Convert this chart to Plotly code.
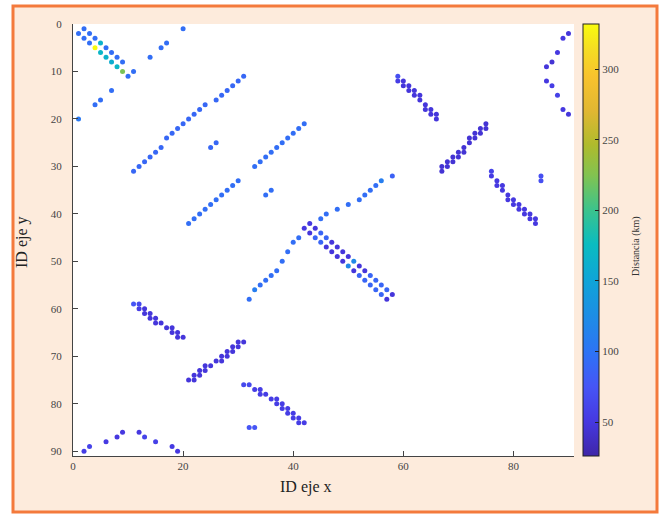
import plotly.graph_objects as go

# ---------------- data (ID x, ID y, distance km) ----------------
tl_x = [2, 1, 3, 2, 4, 3, 5, 4, 6, 5, 7, 6, 8, 7, 9, 8, 9, 11, 10]
tl_y = [1, 2, 2, 3, 3, 4, 4, 5, 5, 6, 6, 7, 7, 8, 8, 9, 10, 10, 11]
tl_d = [95, 95, 95, 95, 95, 95, 165, 332, 95, 170, 95, 165, 95, 160, 95, 170, 222, 95, 95]

sc_x = [20, 17, 16, 14, 7, 5, 4, 1]
sc_y = [1, 4, 5, 7, 14, 16, 17, 20]
sc_d = [95, 95, 95, 95, 95, 95, 95, 105]

l1_x = [31, 30, 29, 28, 27, 26, 24, 23, 22, 21, 20, 19, 18, 17, 16, 15, 14, 13, 12, 11, 25, 26]
l1_y = [11, 12, 13, 14, 15, 16, 17, 18, 19, 20, 21, 22, 23, 24, 26, 27, 28, 29, 30, 31, 26, 25]
l1_d = [90] * 22

l2_x = [42, 41, 40, 39, 38, 37, 36, 35, 34, 33, 30, 29, 28, 27, 26, 25, 24, 23, 22, 21, 36, 35]
l2_y = [21, 22, 23, 24, 25, 26, 27, 28, 29, 30, 33, 34, 35, 36, 37, 38, 39, 40, 41, 42, 35, 36]
l2_d = [95] * 22

l4_x = [58, 56, 55, 54, 53, 52, 50, 48, 46, 45, 43, 42, 41, 40, 39, 38, 37, 36, 35, 34, 33, 32]
l4_y = [32, 33, 34, 35, 36, 37, 38, 39, 40, 41, 42, 43, 45, 46, 48, 50, 52, 53, 54, 55, 56, 58]
l4_d = [85, 110, 95, 95, 95, 95, 95, 95, 95, 95, 50, 50, 95, 95, 95, 95, 95, 95, 95, 95, 110, 95]

dr_x = [44, 45, 46, 47, 48, 49, 50, 51, 52, 53, 54, 55, 56, 57, 58,
        43, 44, 45, 46, 47, 48, 49, 50, 51, 52, 53, 54, 55, 56, 57]
dr_y = [43, 44, 45, 46, 47, 48, 49, 50, 51, 52, 53, 54, 55, 56, 57,
        44, 45, 46, 47, 48, 49, 50, 51, 52, 53, 54, 55, 56, 57, 58]
dr_d = [48, 88, 88, 48, 48, 48, 48, 120, 48, 48, 88, 88, 88, 88, 48,
        48, 88, 88, 48, 48, 48, 48, 120, 48, 88, 88, 88, 88, 88, 48]

ga_x = [59, 59, 60, 60, 61, 61, 62, 62, 63, 63, 64, 64, 65, 65, 66, 66]
ga_y = [11, 12, 12, 13, 13, 14, 14, 15, 15, 16, 17, 18, 18, 19, 19, 20]
ga_d = [70, 55, 48, 48, 48, 48, 48, 48, 48, 48, 48, 48, 48, 48, 48, 48]

gam_x = [11, 12, 12, 13, 13, 14, 14, 15, 15, 16, 17, 18, 18, 19, 19, 20]
gam_y = [59, 59, 60, 60, 61, 61, 62, 62, 63, 63, 64, 64, 65, 65, 66, 66]
gam_d = [75, 65, 55, 48, 48, 48, 48, 48, 48, 48, 48, 48, 48, 48, 48, 48]

gb_x = [75, 74, 75, 73, 74, 72, 73, 72, 71, 70, 71, 69, 70, 68, 69, 67, 68, 67]
gb_y = [21, 22, 22, 23, 23, 24, 24, 25, 26, 27, 27, 28, 28, 29, 29, 30, 30, 31]
gb_d = [45] * 18

gbm_x = [21, 22, 22, 23, 23, 24, 24, 25, 26, 27, 27, 28, 28, 29, 29, 30, 30, 31]
gbm_y = [75, 74, 75, 73, 74, 72, 73, 72, 71, 70, 71, 69, 70, 68, 69, 67, 68, 67]
gbm_d = [48] * 18

gc_x = [76, 76, 77, 77, 78, 78, 79, 79, 80, 80, 81, 81, 82, 82, 83, 83, 84, 84, 85, 85]
gc_y = [31, 32, 33, 34, 34, 35, 36, 37, 37, 38, 38, 39, 39, 40, 40, 41, 41, 42, 32, 33]
gc_d = [60, 52, 50, 50, 50, 50, 50, 50, 50, 50, 50, 50, 50, 50, 50, 50, 50, 50, 70, 70]

gcm_x = [31, 32, 33, 34, 34, 35, 36, 37, 37, 38, 38, 39, 39, 40, 40, 41, 41, 42, 32, 33]
gcm_y = [76, 76, 77, 77, 78, 78, 79, 79, 80, 80, 81, 81, 82, 82, 83, 83, 84, 84, 85, 85]
gcm_d = [65, 65, 55, 55, 55, 55, 55, 55, 55, 55, 55, 55, 55, 55, 55, 55, 55, 55, 75, 75]

rt_x = [90, 89, 88, 87, 86, 86, 87, 88, 89, 90]
rt_y = [2, 3, 6, 8, 9, 12, 13, 15, 18, 19]
rt_d = [48, 50, 50, 45, 48, 50, 55, 58, 50, 48]

bt_x = [2, 3, 6, 8, 9, 12, 13, 15, 18, 19]
bt_y = [90, 89, 88, 87, 86, 86, 87, 88, 89, 90]
bt_d = [55, 60, 52, 50, 50, 50, 60, 58, 52, 50]

x_ticks = [0, 20, 40, 60, 80]
y_ticks = [0, 10, 20, 30, 40, 50, 60, 70, 80, 90]
cb_ticks = [50, 100, 150, 200, 250, 300]

xs = tl_x + sc_x + l1_x + l2_x + l4_x + dr_x + ga_x + gam_x + gb_x + gbm_x + gc_x + gcm_x + rt_x + bt_x
ys = tl_y + sc_y + l1_y + l2_y + l4_y + dr_y + ga_y + gam_y + gb_y + gbm_y + gc_y + gcm_y + rt_y + bt_y
ds = tl_d + sc_d + l1_d + l2_d + l4_d + dr_d + ga_d + gam_d + gb_d + gbm_d + gc_d + gcm_d + rt_d + bt_d

parula = [
    [0.00, "rgb(62,38,168)"],
    [0.08, "rgb(70,56,225)"],
    [0.16, "rgb(70,85,245)"],
    [0.24, "rgb(45,115,245)"],
    [0.32, "rgb(30,140,230)"],
    [0.41, "rgb(15,165,215)"],
    [0.49, "rgb(10,188,192)"],
    [0.57, "rgb(60,195,140)"],
    [0.65, "rgb(130,195,80)"],
    [0.72, "rgb(175,187,45)"],
    [0.80, "rgb(225,183,50)"],
    [0.88, "rgb(248,195,45)"],
    [0.94, "rgb(245,220,35)"],
    [1.00, "rgb(249,251,14)"],
]

W, H = 665, 517
ML, MR, MT, MB = 73, 91, 24, 61
PW, PH = W - ML - MR, H - MT - MB

def px_x(p):
    return (p - ML) / PW

def px_y(p):
    return (H - MB - p) / PH

SERIF = "Liberation Serif"

fig = go.Figure(go.Scatter(
    x=xs, y=ys, mode="markers",
    marker=dict(
        size=5, color=ds, colorscale=parula, cmin=26, cmax=332,
        line=dict(width=0),
        colorbar=dict(
            x=px_x(583), xanchor="left", xpad=0, ypad=0,
            y=0.5, yanchor="middle", len=1, lenmode="fraction",
            thickness=16, thicknessmode="pixels",
            outlinecolor="#222", outlinewidth=1,
            ticks="inside", ticklen=4, tickcolor="#222",
            tickvals=cb_ticks,
            tickfont=dict(family=SERIF, size=11, color="#444"),
        ),
    ),
    hoverinfo="skip",
))

fig.update_layout(
    width=W, height=H,
    margin=dict(l=ML, r=MR, t=MT, b=MB),
    paper_bgcolor="white", plot_bgcolor="white",
    showlegend=False,
    font=dict(family=SERIF, color="#333"),
    xaxis=dict(range=[0, 91], tickvals=x_ticks, ticks="inside", ticklen=5,
               tickcolor="#444", showline=True, linecolor="#444", linewidth=1,
               showgrid=False, zeroline=False, mirror=False,
               tickfont=dict(family=SERIF, size=11, color="#444")),
    yaxis=dict(range=[91, 0], tickvals=y_ticks, ticks="inside", ticklen=5,
               tickcolor="#444", showline=True, linecolor="#444", linewidth=1,
               showgrid=False, zeroline=False, mirror=False, ticklabelstandoff=8,
               tickfont=dict(family=SERIF, size=11, color="#444")),
    shapes=[
        dict(type="rect", xref="paper", yref="paper", layer="below",
             x0=px_x(13), x1=px_x(657), y0=px_y(512), y1=px_y(6),
             fillcolor="#FDEBDC", line=dict(color="#F47A3C", width=3)),
        dict(type="rect", xref="paper", yref="paper", layer="below",
             x0=0, x1=1, y0=0, y1=1, fillcolor="white", line=dict(width=0)),
    ],
    annotations=[
        dict(text="ID eje x", xref="paper", yref="paper", x=px_x(306), y=px_y(487),
             xanchor="center", yanchor="middle", showarrow=False,
             font=dict(family=SERIF, size=16, color="#222")),
        dict(text="ID eje y", xref="paper", yref="paper", x=px_x(22), y=px_y(242),
             xanchor="center", yanchor="middle", showarrow=False, textangle=-90,
             font=dict(family=SERIF, size=16, color="#222")),
        dict(text="Distancia (km)", xref="paper", yref="paper", x=px_x(636), y=px_y(246),
             xanchor="center", yanchor="middle", showarrow=False, textangle=-90,
             font=dict(family=SERIF, size=10, color="#333")),
    ],
)

fig.write_html(
    "out.html",
    config={"displayModeBar": False},
    post_script="document.body.style.margin='0';document.body.style.overflow='hidden';",
)
